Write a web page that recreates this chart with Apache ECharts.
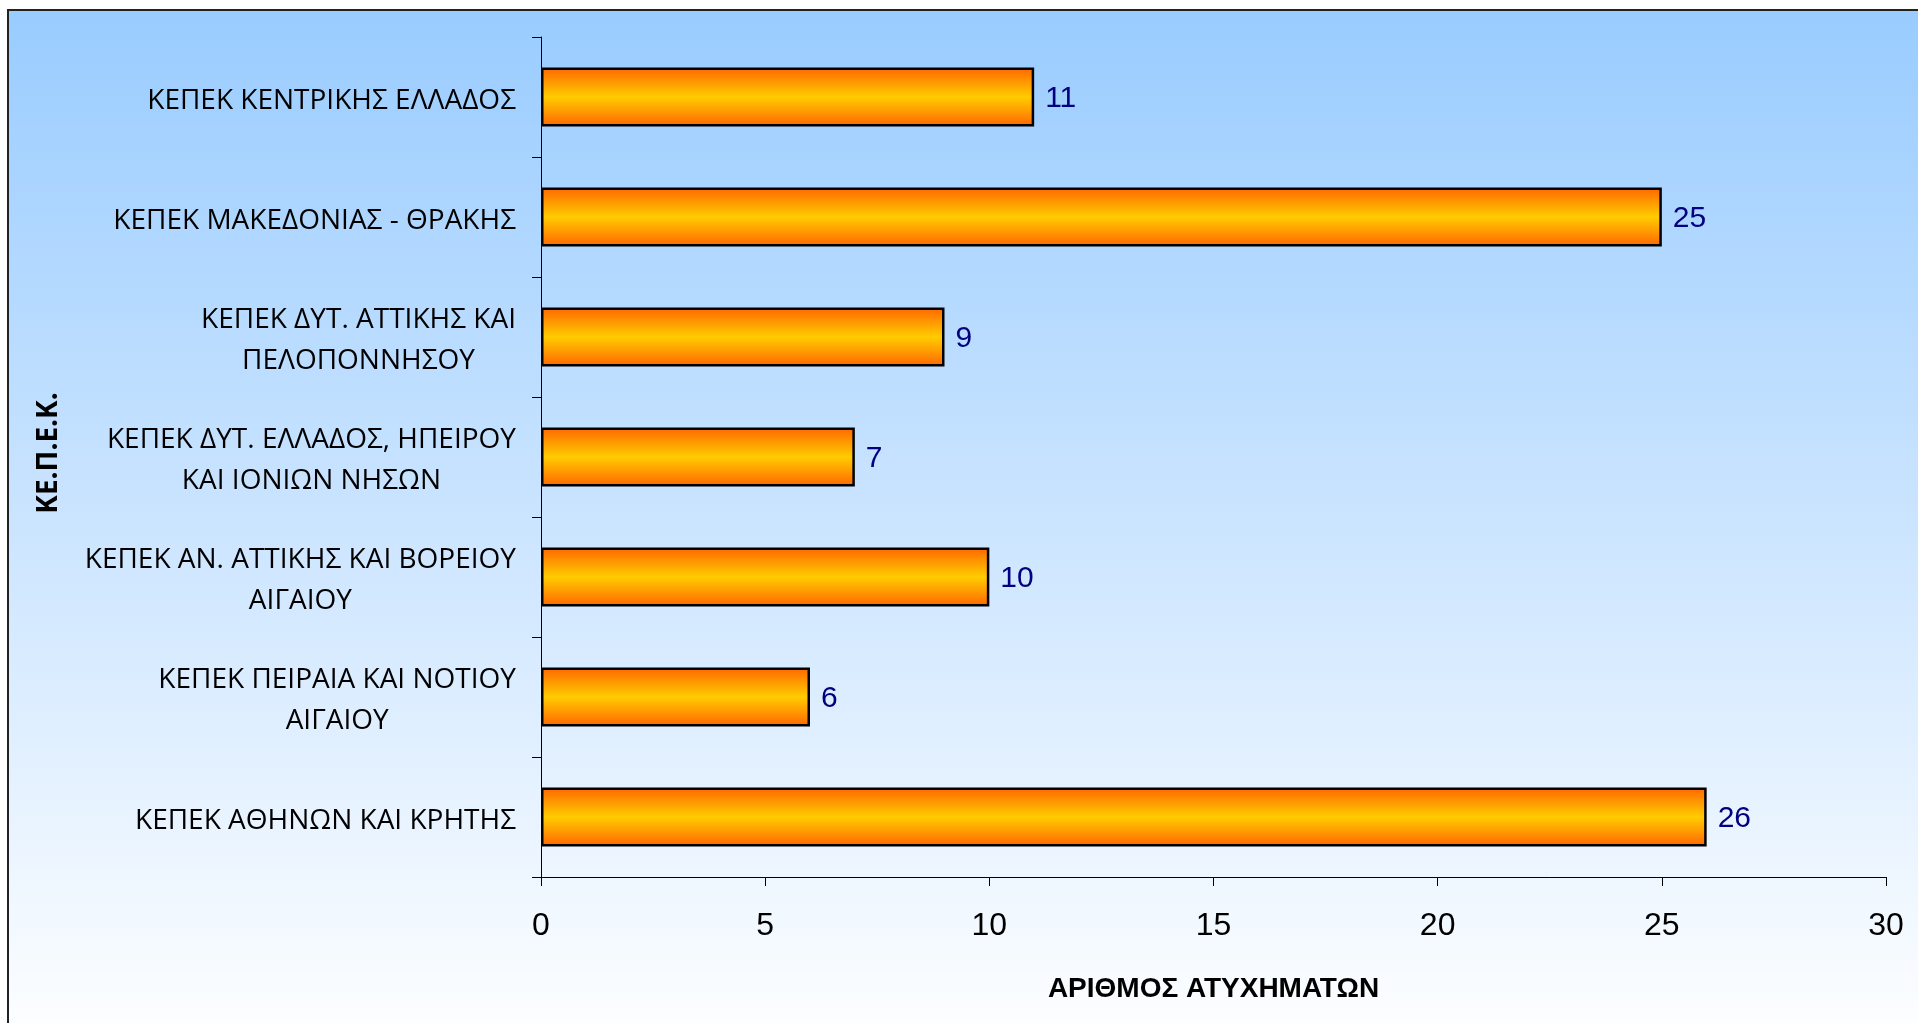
<!DOCTYPE html>
<html>
<head>
<meta charset="utf-8">
<script src="https://cdn.jsdelivr.net/npm/echarts@6/dist/echarts.min.js"></script>
<style>
html,body{margin:0;padding:0;background:#ffffff;}
#chart{width:1918px;height:1023px;}
</style>
</head>
<body>
<div id="chart"></div>
<script>
const categories = [
  "ΚΕΠΕΚ ΚΕΝΤΡΙΚΗΣ ΕΛΛΑΔΟΣ",
  "ΚΕΠΕΚ ΜΑΚΕΔΟΝΙΑΣ - ΘΡΑΚΗΣ",
  "ΚΕΠΕΚ ΔΥΤ. ΑΤΤΙΚΗΣ ΚΑΙ\nΠΕΛΟΠΟΝΝΗΣΟΥ",
  "ΚΕΠΕΚ ΔΥΤ. ΕΛΛΑΔΟΣ, ΗΠΕΙΡΟΥ\nΚΑΙ ΙΟΝΙΩΝ ΝΗΣΩΝ",
  "ΚΕΠΕΚ ΑΝ. ΑΤΤΙΚΗΣ ΚΑΙ ΒΟΡΕΙΟΥ\nΑΙΓΑΙΟΥ",
  "ΚΕΠΕΚ ΠΕΙΡΑΙΑ ΚΑΙ ΝΟΤΙΟΥ\nΑΙΓΑΙΟΥ",
  "ΚΕΠΕΚ ΑΘΗΝΩΝ ΚΑΙ ΚΡΗΤΗΣ"
];
const accidents = [11, 25, 9, 7, 10, 6, 26];
const xTicks = { min: 0, max: 30, interval: 5 };
const xTitle = "ΑΡΙΘΜΟΣ ΑΤΥΧΗΜΑΤΩΝ";
const yTitle = "ΚΕ.Π.Ε.Κ.";

const chart = echarts.init(document.getElementById('chart'));
const option = {
  animation: false,
  graphic: [
    {
      type: 'rect',
      z: -100,
      silent: true,
      shape: { x: 8, y: 10, width: 1940, height: 1040 },
      style: {
        fill: new echarts.graphic.LinearGradient(0, 0, 0, 1, [
          { offset: 0, color: '#99CCFF' },
          { offset: 0.5, color: '#CCE5FF' },
          { offset: 1, color: '#FFFFFF' }
        ]),
        stroke: '#222222',
        lineWidth: 2
      }
    },
    {
      type: 'text',
      x: 49,
      y: 453,
      rotation: Math.PI / 2,
      style: {
        text: yTitle,
        font: 'bold 28px "Open Sans", sans-serif',
        fill: '#000000',
        textAlign: 'center',
        textVerticalAlign: 'middle'
      }
    }
  ],
  grid: { left: 541, right: 32, top: 37, bottom: 146, containLabel: false },
  xAxis: {
    type: 'value',
    min: xTicks.min,
    max: xTicks.max,
    interval: xTicks.interval,
    name: xTitle,
    nameLocation: 'middle',
    nameGap: 98,
    nameTextStyle: { fontFamily: 'Liberation Sans, Arial', fontWeight: 'bold', fontSize: 28, color: '#000' },
    axisLine: { show: true, lineStyle: { color: '#000', width: 1 } },
    axisTick: { show: true, length: 9, lineStyle: { color: '#000' } },
    axisLabel: { fontFamily: 'Liberation Sans, Arial', fontSize: 32, color: '#000', margin: 33 },
    splitLine: { show: false }
  },
  yAxis: {
    type: 'category',
    data: categories,
    inverse: true,
    axisLine: { show: true, lineStyle: { color: '#000', width: 1 } },
    axisTick: { show: true, length: 9, lineStyle: { color: '#000' } },
    axisLabel: {
      color: '#000',
      margin: 25,
      align: 'right',
      padding: [8, 0, 0, 0],
      formatter: function (v) {
        return v.split('\n').map(function (l) { return '{c|' + l + '}'; }).join('\n');
      },
      rich: {
        c: {
          fontFamily: '"Open Sans", sans-serif',
          fontSize: 28,
          lineHeight: 41,
          color: '#000',
          align: 'center'
        }
      }
    }
  },
  series: [{
    type: 'bar',
    data: accidents,
    barWidth: 59,
    itemStyle: {
      color: new echarts.graphic.LinearGradient(0, 0, 0, 1, [
        { offset: 0, color: '#FF6600' },
        { offset: 0.5, color: '#FFCC00' },
        { offset: 1, color: '#FF6600' }
      ]),
      borderColor: '#000000',
      borderWidth: 2.5
    },
    label: {
      show: true,
      position: 'right',
      distance: 11,
      offset: [0, 2],
      fontFamily: 'Liberation Sans, Arial',
      fontSize: 30,
      color: '#000080'
    }
  }]
};
chart.setOption(option);
</script>
</body>
</html>
